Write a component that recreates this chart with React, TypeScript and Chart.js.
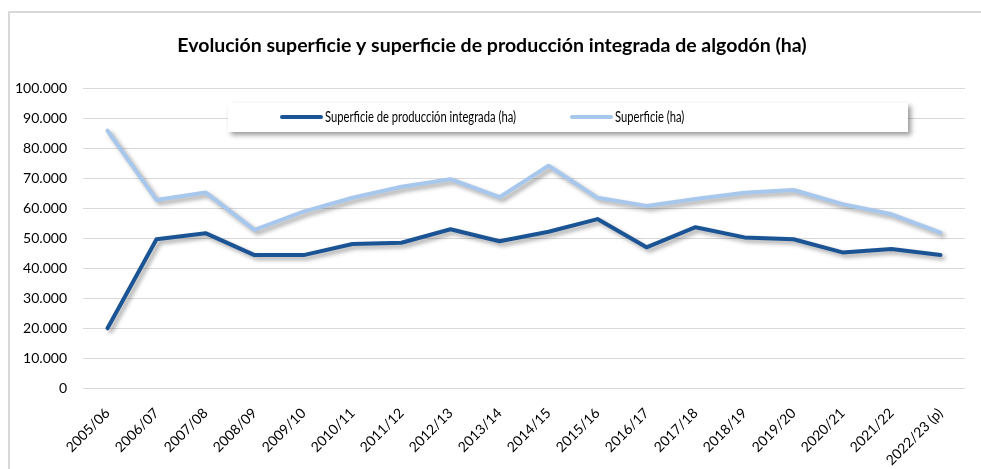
import React, { useEffect, useRef } from "react";
import { Chart, registerables } from "chart.js";

Chart.register(...registerables);

const title = "Evolución superficie y superficie de producción integrada de algodón (ha)";

const campaigns = [
  "2005/06", "2006/07", "2007/08", "2008/09", "2009/10", "2010/11",
  "2011/12", "2012/13", "2013/14", "2014/15", "2015/16", "2016/17",
  "2017/18", "2018/19", "2019/20", "2020/21", "2021/22", "2022/23 (p)",
];

const integratedLabel = "Superficie de producción integrada (ha)";
const integratedArea = [
  19900, 49600, 51600, 44300, 44300, 48000, 48400, 52900, 48900,
  52100, 56300, 46900, 53600, 50200, 49600, 45200, 46300, 44300,
];

const totalLabel = "Superficie (ha)";
const totalArea = [
  85800, 62700, 65200, 52700, 58800, 63400, 67100, 69600, 63600,
  74100, 63400, 60700, 63000, 65100, 66000, 61300, 57900, 51800,
];

const yMin = 0;
const yMax = 100000;
const yStep = 10000;

const darkBlue = "#1B5494";
const lightBlue = "#A7C7ED";
const fontFamily = "Lato, 'Open Sans', sans-serif";

function formatThousands(v: number): string {
  return String(Math.round(v)).replace(/\B(?=(\d{3})+(?!\d))/g, ".");
}

const framePlugin = {
  id: "frame",
  beforeDraw(chart: any) {
    const ctx = chart.ctx;
    ctx.save();
    ctx.fillStyle = "#ffffff";
    ctx.fillRect(0, 0, chart.width, chart.height);
    ctx.fillStyle = "#D9D9D9";
    ctx.fillRect(8, 11, 2, chart.height - 11);
    ctx.fillRect(8, 11, chart.width - 8, 2);
    ctx.fillStyle = "#000000";
    ctx.font = `bold 19.5px ${fontFamily}`;
    ctx.textAlign = "center";
    ctx.textBaseline = "middle";
    ctx.fillText(title, 492, 46);
    ctx.restore();
  },
};

const shadowPlugin = {
  id: "lineShadow",
  beforeDatasetDraw(chart: any) {
    const ctx = chart.ctx;
    ctx.save();
    ctx.shadowColor = "rgba(0,0,0,0.35)";
    ctx.shadowBlur = 4;
    ctx.shadowOffsetX = 3;
    ctx.shadowOffsetY = 3;
  },
  afterDatasetDraw(chart: any) {
    chart.ctx.restore();
  },
};

const legendBoxPlugin = {
  id: "legendBox",
  afterDatasetsDraw(chart: any) {
    const ctx = chart.ctx;
    const x0 = 228, y0 = 103, w = 680, h = 29;
    ctx.save();
    ctx.shadowColor = "rgba(0,0,0,0.4)";
    ctx.shadowBlur = 5;
    ctx.shadowOffsetX = 3;
    ctx.shadowOffsetY = 3;
    ctx.fillStyle = "#ffffff";
    ctx.fillRect(x0, y0, w, h);
    ctx.restore();

    ctx.save();
    const cy = y0 + 14;
    const items = [
      { x: 282, color: darkBlue, text: chart.data.datasets[0].label },
      { x: 572, color: lightBlue, text: chart.data.datasets[1].label },
    ];
    ctx.font = `15.5px ${fontFamily}`;
    ctx.textBaseline = "middle";
    ctx.textAlign = "left";
    const natural = ctx.measureText(items[0].text).width;
    const sx = natural > 0 ? 191 / natural : 1;
    for (const it of items) {
      ctx.strokeStyle = it.color;
      ctx.lineWidth = 4;
      ctx.lineCap = "round";
      ctx.beginPath();
      ctx.moveTo(it.x, cy);
      ctx.lineTo(it.x + 39, cy);
      ctx.stroke();
      ctx.fillStyle = "#000000";
      ctx.save();
      ctx.translate(it.x + 43, cy);
      ctx.scale(sx, 1);
      ctx.fillText(it.text, 0, 0);
      ctx.restore();
    }
    ctx.restore();
  },
};

export default function App() {
  const ref = useRef<HTMLCanvasElement | null>(null);

  useEffect(() => {
    if (!ref.current) return;
    const chart = new Chart(ref.current, {
      type: "line",
      data: {
        labels: campaigns,
        datasets: [
          {
            label: integratedLabel,
            data: integratedArea,
            borderColor: darkBlue,
            backgroundColor: darkBlue,
            borderWidth: 4,
            pointRadius: 0,
            tension: 0,
            borderCapStyle: "round",
            borderJoinStyle: "round",
          },
          {
            label: totalLabel,
            data: totalArea,
            borderColor: lightBlue,
            backgroundColor: lightBlue,
            borderWidth: 4,
            pointRadius: 0,
            tension: 0,
            borderCapStyle: "round",
            borderJoinStyle: "round",
          },
        ],
      },
      options: {
        responsive: false,
        animation: false,
        layout: { padding: { top: 88, right: 16, left: 0, bottom: 0 } },
        plugins: {
          legend: { display: false },
          title: { display: false },
          tooltip: { enabled: false },
        },
        scales: {
          x: {
            type: "category",
            offset: true,
            grid: { display: false, drawTicks: false },
            border: { display: false },
            ticks: {
              color: "#000000",
              font: { family: fontFamily, size: 14 },
              minRotation: 45,
              maxRotation: 45,
              padding: 17,
              autoSkip: false,
            },
            afterFit(scale: any) {
              scale.height = 81;
            },
          },
          y: {
            min: yMin,
            max: yMax,
            grid: { color: "#D9D9D9", drawTicks: false, lineWidth: 1 },
            border: { display: false },
            ticks: {
              stepSize: yStep,
              color: "#000000",
              font: { family: fontFamily, size: 14 },
              padding: 16,
              callback: (v: any) => formatThousands(Number(v)),
            },
            afterFit(scale: any) {
              scale.width = 83;
            },
          },
        },
      },
      plugins: [framePlugin, shadowPlugin, legendBoxPlugin],
    });
    return () => chart.destroy();
  }, []);

  return (
    <div style={{ position: "fixed", left: 0, top: 0, width: 981, height: 469, background: "#fff" }}>
      <canvas ref={ref} width={981} height={469} style={{ display: "block", width: 981, height: 469 }} />
    </div>
  );
}
